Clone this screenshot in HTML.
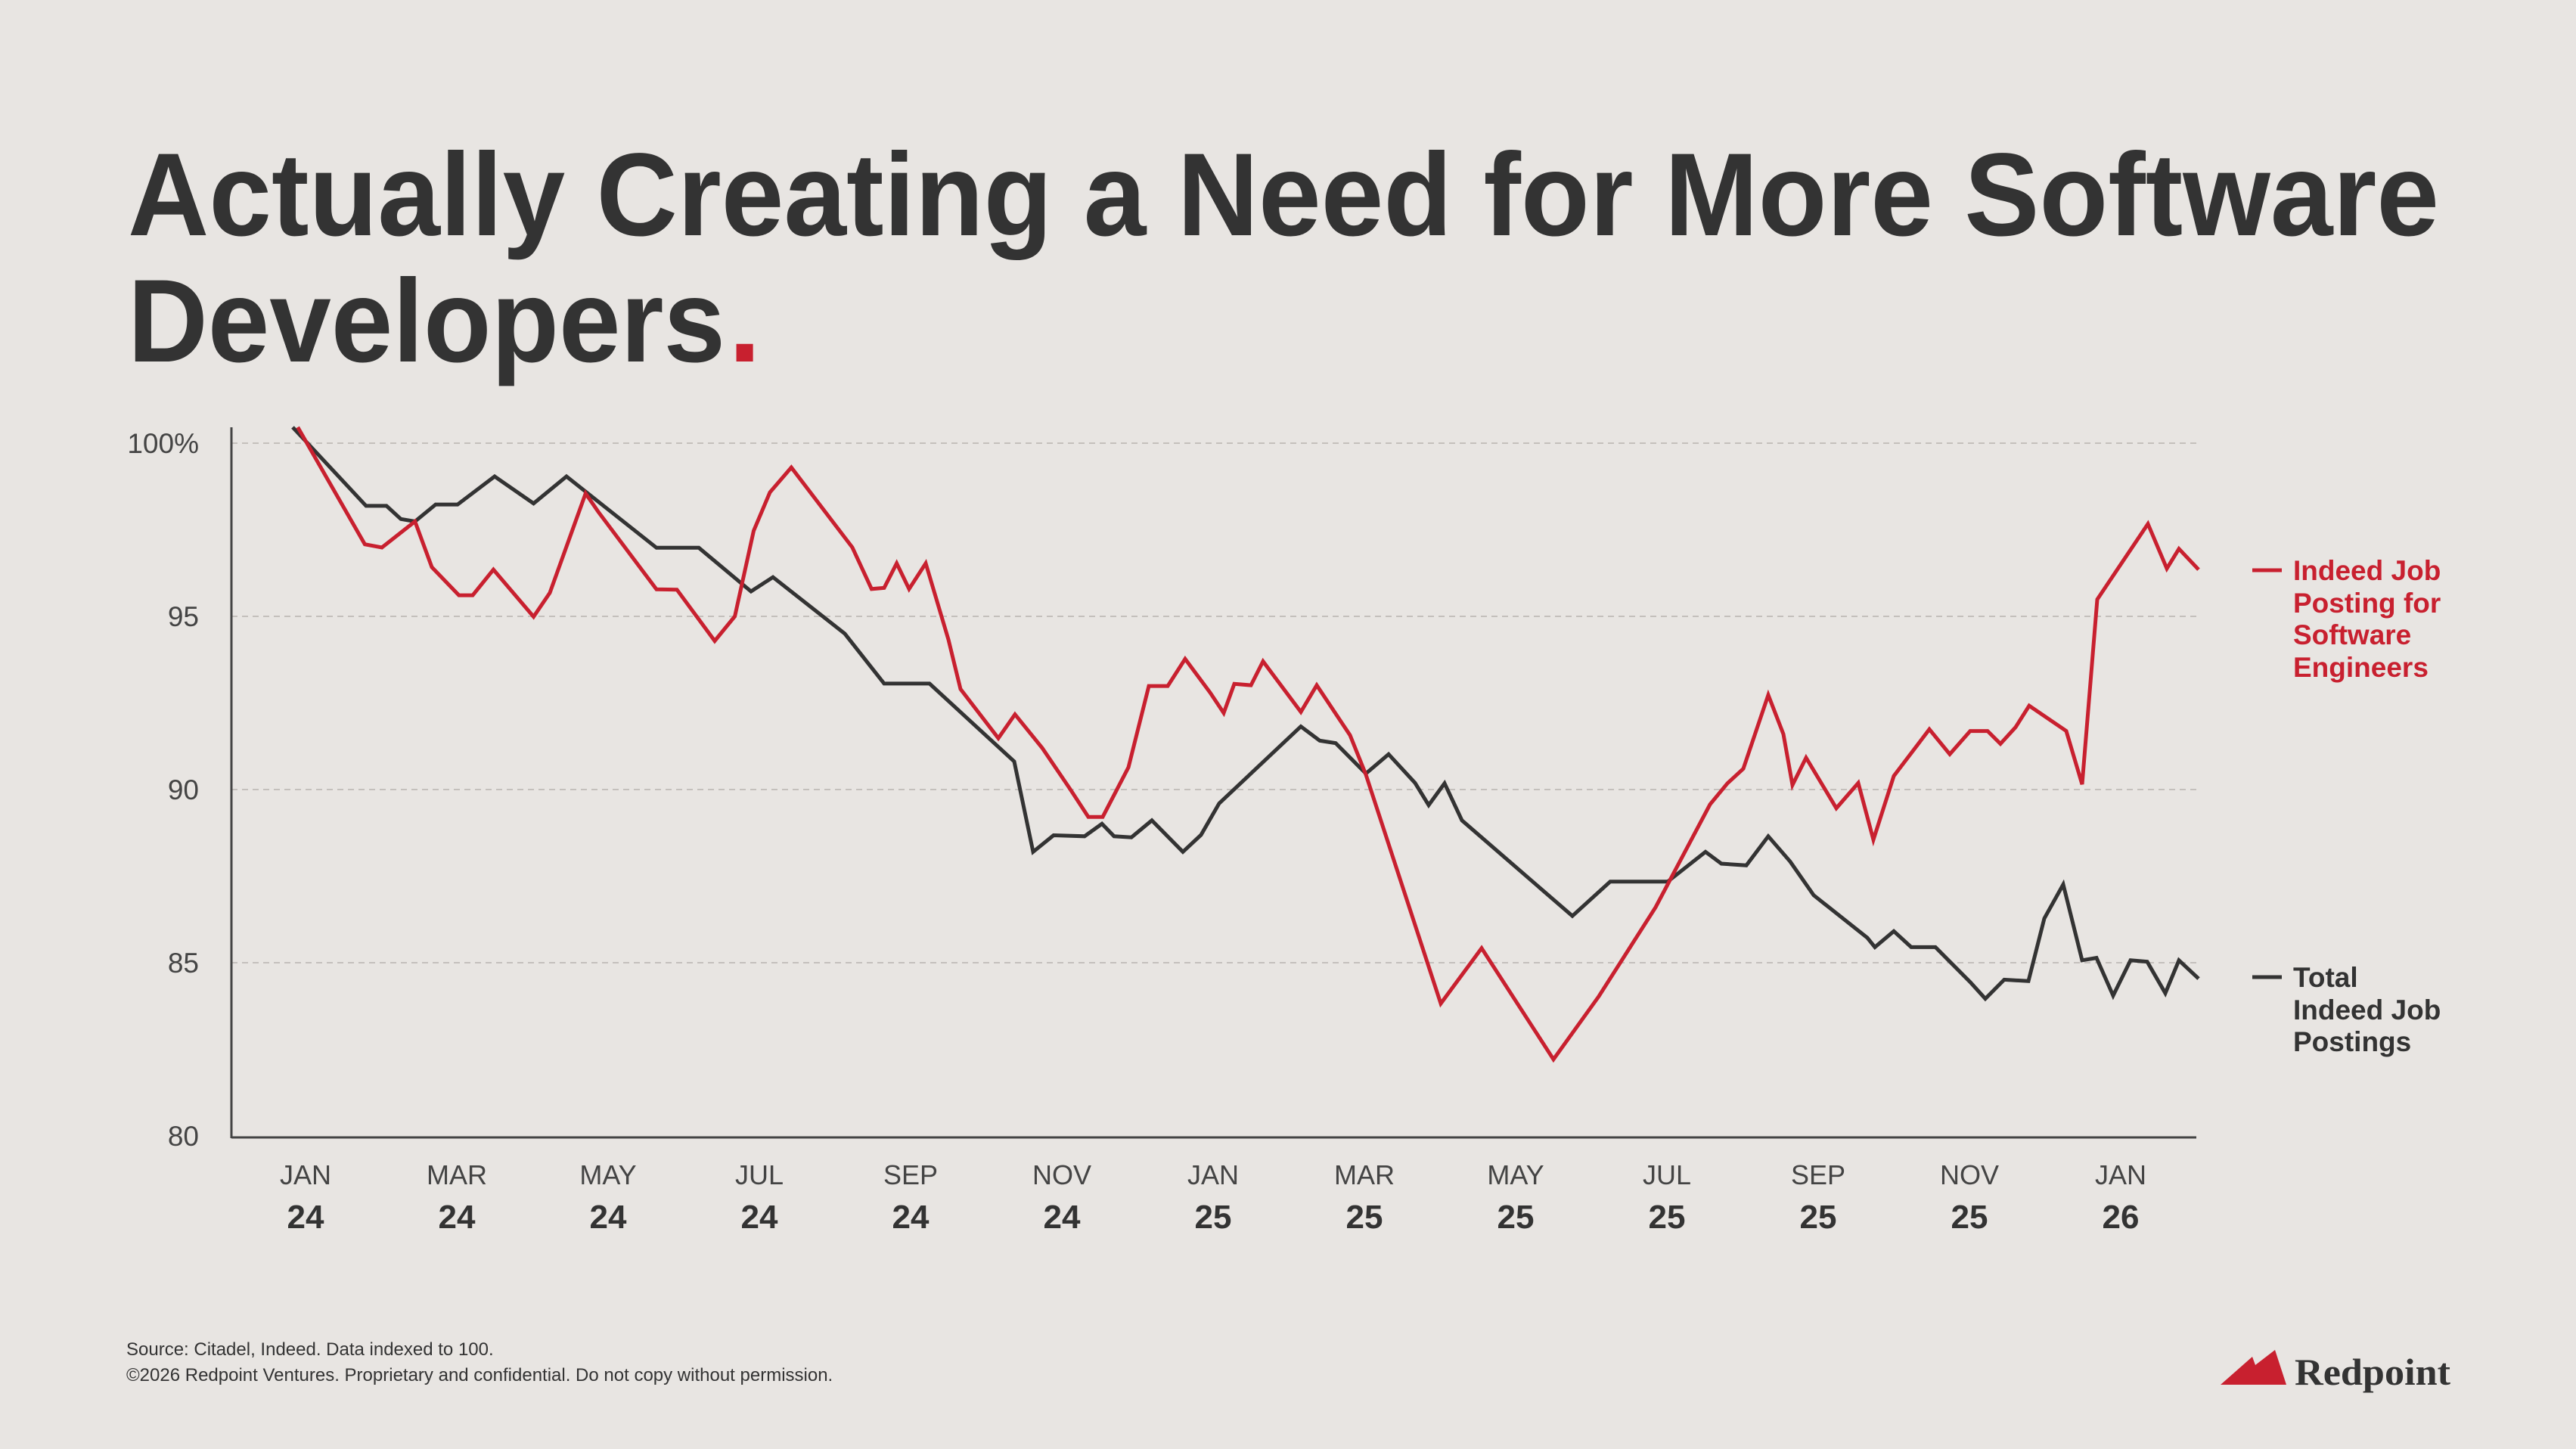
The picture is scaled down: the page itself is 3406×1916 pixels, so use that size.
<!DOCTYPE html>
<html><head><meta charset="utf-8"><style>
html,body{margin:0;padding:0;background:#e8e5e2;}
svg{display:block;}
text{font-family:"Liberation Sans",sans-serif;}
</style></head><body>
<svg id="chart" width="3406" height="1916" viewBox="0 0 3406 1916" xmlns="http://www.w3.org/2000/svg">
<rect width="3406" height="1916" fill="#e8e5e2"/>
<text x="169" y="311" font-size="156" font-weight="bold" fill="#333" textLength="3056" lengthAdjust="spacingAndGlyphs">Actually Creating a Need for More Software</text>
<text x="169" y="478" font-size="156" font-weight="bold" fill="#333" textLength="790" lengthAdjust="spacingAndGlyphs">Developers</text>
<text x="963" y="478" font-size="156" font-weight="bold" fill="#c8202f">.</text>
<g id="grid"></g>
<g id="yticks"></g>
<g id="xticks"></g>
<line x1="306" y1="565" x2="306" y2="1505" stroke="#444" stroke-width="3"/>
<line x1="306" y1="1504" x2="2904" y2="1504" stroke="#444" stroke-width="3"/>
<g id="series"></g>
<g>
<line x1="2978" y1="754" x2="3017" y2="754" stroke="#c8202f" stroke-width="5"/>
<text x="3032" y="767" font-size="37" font-weight="bold" fill="#c8202f">Indeed Job</text>
<text x="3032" y="810" font-size="37" font-weight="bold" fill="#c8202f">Posting for</text>
<text x="3032" y="852" font-size="37" font-weight="bold" fill="#c8202f">Software</text>
<text x="3032" y="895" font-size="37" font-weight="bold" fill="#c8202f">Engineers</text>
</g>
<g>
<line x1="2978" y1="1292" x2="3017" y2="1292" stroke="#333" stroke-width="5"/>
<text x="3032" y="1305" font-size="37" font-weight="bold" fill="#333">Total</text>
<text x="3032" y="1348" font-size="37" font-weight="bold" fill="#333">Indeed Job</text>
<text x="3032" y="1390" font-size="37" font-weight="bold" fill="#333">Postings</text>
</g>
<text x="167" y="1792" font-size="24" fill="#333">Source: Citadel, Indeed. Data indexed to 100.</text>
<text x="167" y="1826" font-size="24" fill="#333">©2026 Redpoint Ventures. Proprietary and confidential. Do not copy without permission.</text>
<g>
<polygon points="2936,1831 2978,1794 2982,1805 3008,1785 3023,1831" fill="#c8202f"/>
<text x="3034" y="1831" font-size="50" font-weight="bold" fill="#333" textLength="206" lengthAdjust="spacingAndGlyphs" style="font-family:'Liberation Serif',serif">Redpoint</text>
</g>
</svg>
<script>
const yTicks = [100, 95, 90, 85, 80];
const yTickLabels = ["100%", "95", "90", "85", "80"];
const xMonths = ["JAN","MAR","MAY","JUL","SEP","NOV","JAN","MAR","MAY","JUL","SEP","NOV","JAN"];
const xYears = ["24","24","24","24","24","24","25","25","25","25","25","25","26"];
const xTickPos = [0.17,2.17,4.17,6.17,8.17,10.17,12.17,14.17,16.17,18.17,20.17,22.17,24.17];
const sweMonths = [0.067,0.954,1.18,1.617,1.84,2.198,2.38,2.654,3.185,3.40,3.873,4.04,4.81,5.08,5.58,5.846,6.095,6.31,6.593,7.40,7.654,7.82,7.986,8.15,8.37,8.67,8.83,9.33,9.55,9.91,10.28,10.52,10.71,11.05,11.32,11.57,11.80,12.13,12.31,12.45,12.67,12.83,13.33,13.54,13.98,14.19,15.18,15.72,16.67,17.27,18.02,18.74,18.97,19.18,19.51,19.71,19.83,20.01,20.41,20.70,20.90,21.17,21.64,21.91,22.18,22.41,22.58,22.78,22.96,23.45,23.66,23.86,24.53,24.78,24.94,25.2];
const sweValues = [100.46,97.08,96.99,97.74,96.42,95.61,95.61,96.35,94.99,95.68,98.55,98.02,95.78,95.77,94.29,95.0,97.47,98.58,99.30,96.99,95.79,95.82,96.53,95.79,96.53,94.33,92.90,91.48,92.17,91.20,90.01,89.21,89.21,90.64,92.99,92.99,93.77,92.8,92.21,93.05,93.01,93.70,92.24,93.01,91.57,90.43,83.82,85.42,82.21,84.03,86.60,89.57,90.18,90.60,92.73,91.60,90.13,90.92,89.46,90.19,88.55,90.39,91.74,91.02,91.69,91.69,91.32,91.80,92.42,91.69,90.15,95.49,97.67,96.38,96.95,96.35];
const totMonths = [0.0,0.97,1.24,1.43,1.617,1.89,2.18,2.67,3.185,3.62,4.81,5.37,6.06,6.35,7.30,7.82,8.42,9.54,9.79,10.06,10.47,10.70,10.86,11.09,11.36,11.77,12.01,12.25,13.33,13.58,13.79,14.19,14.49,14.84,15.02,15.23,15.46,16.92,17.42,18.18,18.68,18.89,19.22,19.51,19.80,20.11,20.82,20.92,21.17,21.40,21.72,22.18,22.38,22.63,22.95,23.16,23.41,23.66,23.85,24.07,24.30,24.52,24.76,24.94,25.2];
const totValues = [100.46,98.19,98.19,97.81,97.74,98.23,98.23,99.04,98.26,99.04,96.98,96.98,95.72,96.13,94.50,93.06,93.06,90.81,88.20,88.68,88.65,89.01,88.65,88.62,89.11,88.20,88.69,89.60,91.82,91.41,91.34,90.46,91.02,90.19,89.55,90.18,89.11,86.35,87.34,87.34,88.20,87.86,87.81,88.65,87.92,86.95,85.72,85.45,85.91,85.45,85.45,84.44,83.96,84.51,84.47,86.28,87.26,85.07,85.14,84.05,85.07,85.03,84.12,85.07,84.54];

const NS = "http://www.w3.org/2000/svg";
function xScale(m){ return 387 + m*100; }
function yScale(v){ return 586 + (100 - v)*45.8; }
function mk(tag, attrs){ const e=document.createElementNS(NS,tag); for(const k in attrs) e.setAttribute(k, attrs[k]); return e; }

const grid=document.getElementById('grid'), yt=document.getElementById('yticks'), xt=document.getElementById('xticks'), ser=document.getElementById('series');
yTicks.forEach((v,i)=>{
  if(v>80){
    const g=mk('line',{x1:306,x2:2904,y1:yScale(v),y2:yScale(v),stroke:'#c4c0bc','stroke-width':2,'stroke-dasharray':'8,6'});
    
    
    grid.appendChild(g);
  }
  const t=mk('text',{x:263,y:yScale(v)+13,'font-size':37,fill:'#444','text-anchor':'end'});
  t.textContent=yTickLabels[i];
  
  
  yt.appendChild(t);
});
xMonths.forEach((m,i)=>{
  const x=xScale(xTickPos[i]);
  const t=mk('text',{x:x,y:1566,'font-size':36,fill:'#444','text-anchor':'middle'});
  t.textContent=m;
  
  
  xt.appendChild(t);
  const y=mk('text',{x:x,y:1624,'font-size':44,'font-weight':'bold',fill:'#333','text-anchor':'middle'});
  y.textContent=xYears[i];
  
  
  xt.appendChild(y);
});
function line(ms, vs, color, name){
  const d=ms.map((m,i)=>(i?'L':'M')+xScale(m).toFixed(1)+','+yScale(vs[i]).toFixed(1)).join(' ');
  const p=mk('path',{d:d,fill:'none',stroke:color,'stroke-width':5,'stroke-linejoin':'miter'});
  
  
  ser.appendChild(p);
}
line(totMonths, totValues, '#333', 'total-postings-line');
line(sweMonths, sweValues, '#c8202f', 'software-engineer-postings-line');
</script>
</body></html>
